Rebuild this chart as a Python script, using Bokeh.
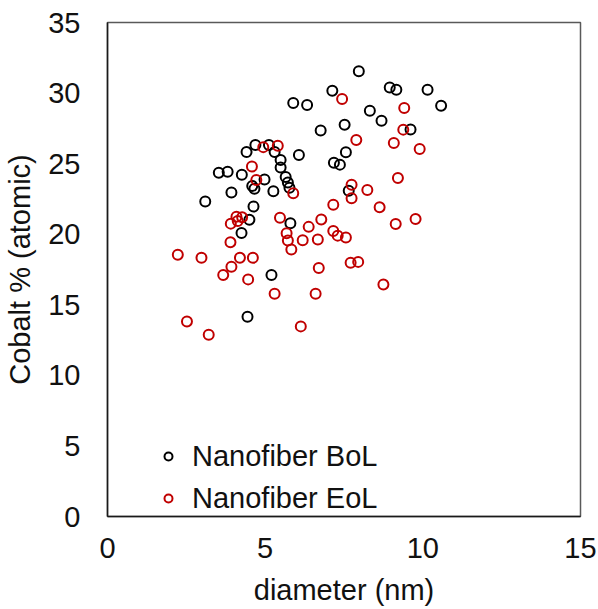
from bokeh.plotting import figure
from bokeh.models import Range1d, FixedTicker, Legend, LegendItem
from bokeh.embed import file_html
from bokeh.resources import INLINE

# Nanofiber diameter (nm) vs. cobalt content (atomic %), beginning of life
bol_diameter = [7.97, 7.13, 8.95, 9.16, 10.15, 10.58, 5.89, 6.33, 8.32, 8.69,
                7.52, 6.76, 9.61, 4.69, 5.12, 4.41, 5.30, 6.07, 7.56, 5.49,
                5.49, 7.18, 7.37, 3.53, 3.81, 4.26, 5.65, 5.72, 4.98, 4.59,
                4.66, 5.26, 3.93, 7.65, 3.10, 4.63, 4.50, 5.80, 4.25, 5.20,
                4.44, 5.77]
bol_cobalt = [31.54, 30.17, 30.40, 30.24, 30.24, 29.11, 29.30, 29.16, 28.75, 28.04,
              27.76, 27.34, 27.42, 26.32, 26.32, 25.82, 25.82, 25.62, 25.80, 25.26,
              24.73, 25.07, 24.93, 24.36, 24.43, 24.22, 24.05, 23.67, 23.88, 23.42,
              23.22, 23.05, 22.96, 23.08, 22.32, 21.96, 21.03, 20.77, 20.08, 17.11,
              14.16, 23.30]

# end of life
eol_diameter = [7.44, 9.41, 9.38, 7.89, 9.08, 9.90, 9.21, 7.74, 8.24, 7.74,
                7.16, 8.63, 6.78, 9.77, 9.14, 6.38, 6.19, 6.67, 7.16, 7.30,
                7.56, 7.71, 7.95, 6.70, 8.75, 6.60, 6.13, 5.89, 4.09, 4.27,
                3.91, 4.13, 5.47, 5.68, 5.72, 5.83, 3.90, 2.23, 2.98, 4.20,
                4.61, 3.93, 3.67, 4.46, 5.30, 2.52, 3.21, 4.94, 5.40, 4.58,
                4.72]
eol_cobalt = [29.58, 28.94, 27.41, 26.68, 26.47, 26.04, 23.99, 23.50, 23.14, 22.55,
              22.09, 21.91, 21.05, 21.08, 20.73, 20.52, 19.57, 19.62, 20.22, 19.90,
              19.77, 17.98, 18.04, 17.60, 16.44, 15.78, 13.47, 22.90, 21.24, 21.20,
              20.75, 20.93, 21.17, 20.07, 19.56, 18.92, 19.43, 18.55, 18.33, 18.33,
              18.33, 17.70, 17.11, 16.80, 15.78, 13.82, 12.88, 26.17, 26.27, 24.79,
              23.84]

x_ticks = [0, 5, 10, 15]
y_ticks = [0, 5, 10, 15, 20, 25, 30, 35]

FONT = "Liberation Sans"
FONT_SIZE = "29px"
RED = "#C00000"

p = figure(width=598, height=609, output_backend="svg", toolbar_location=None,
           x_range=Range1d(0, 15), y_range=Range1d(0, 35),
           min_border_left=107, min_border_right=18,
           min_border_top=22, min_border_bottom=93)

p.xgrid.visible = False
p.ygrid.visible = False
p.outline_line_color = "#595959"
p.outline_line_width = 1.5

for ax in (p.xaxis[0], p.yaxis[0]):
    ax.axis_line_color = "#1a1a1a"
    ax.axis_line_width = 1.5
    ax.major_tick_line_color = None
    ax.minor_tick_line_color = None
    ax.major_tick_out = 0
    ax.major_tick_in = 0
    ax.minor_tick_out = 0
    ax.minor_tick_in = 0
    ax.major_label_text_font = FONT
    ax.major_label_text_font_size = FONT_SIZE
    ax.major_label_text_color = "#111111"
    ax.axis_label_text_font = FONT
    ax.axis_label_text_font_size = FONT_SIZE
    ax.axis_label_text_font_style = "normal"
    ax.axis_label_text_color = "#111111"

p.xaxis.ticker = FixedTicker(ticks=x_ticks)
p.yaxis.ticker = FixedTicker(ticks=y_ticks)
p.xaxis.axis_label = "diameter (nm)"
p.yaxis.axis_label = "Cobalt % (atomic)"
p.xaxis.major_label_standoff = 21
p.yaxis.major_label_standoff = 27
p.xaxis.axis_label_standoff = 13
p.yaxis.axis_label_standoff = 9

r_bol = p.scatter(bol_diameter, bol_cobalt, marker="circle", size=10,
                  fill_color=None, line_color="black", line_width=2)
r_eol = p.scatter(eol_diameter, eol_cobalt, marker="circle", size=10,
                  fill_color=None, line_color=RED, line_width=2)

legend = Legend(items=[LegendItem(label="Nanofiber BoL", renderers=[r_bol]),
                       LegendItem(label="Nanofiber EoL", renderers=[r_eol])],
                location=(51, 0), orientation="vertical",
                padding=0, margin=0, spacing=6,
                glyph_width=20, glyph_height=20, label_height=36,
                label_standoff=14,
                label_text_font=FONT, label_text_font_size=FONT_SIZE,
                label_text_color="#111111",
                border_line_color=None, background_fill_alpha=0)
p.add_layout(legend)

open("out.html", "w").write(file_html(p, INLINE))
